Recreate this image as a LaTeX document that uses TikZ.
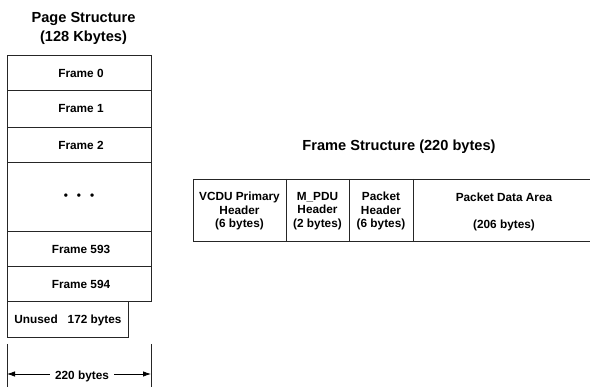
\documentclass[tikz,border=0pt]{standalone}
\usepackage{fontspec}
\setmainfont{Liberation Sans}
\usetikzlibrary{arrows.meta}
\tikzset{
  cell/.style={draw=black!85, line width=0.8pt},
  lbl/.style={font=\bfseries\fontsize{11.8}{13.5}\selectfont, align=center, inner sep=0pt},
  ttl/.style={font=\bfseries\fontsize{14.6}{19}\selectfont, align=center, inner sep=0pt},
}
\begin{document}
\begin{tikzpicture}[x=1pt,y=-1pt]
\useasboundingbox (0,0) rectangle (590,387);

% page structure column
\node[ttl] (ptitle) at (83.5,28) {Page Structure\\(128 Kbytes)};
\draw[cell] (7,55) rectangle (151,301);
\foreach \yy in {90,127,162,231,266} \draw[cell] (7,\yy) -- (151,\yy);
\node[lbl] (f0) at (81,73) {Frame 0};
\node[lbl] (f1) at (81,109) {Frame 1};
\node[lbl] (f2) at (81,145) {Frame 2};
\node[lbl] (dots) at (79,197) {\textbullet\hspace{9pt}\textbullet\hspace{9pt}\textbullet};
\node[lbl] (f593) at (81,249) {Frame 593};
\node[lbl] (f594) at (81,284) {Frame 594};
\draw[cell] (7,301) rectangle (128,337);
\node[lbl] (unused) at (68,320) {Unused\hspace{10pt}172 bytes};

% width dimension
\coordinate (tl) at (7,344);
\coordinate (tr) at (151,344);
\draw[cell] (tl) -- (7,387);
\draw[cell] (tr) -- (151,387);
\node[lbl, fill=white, inner xsep=5pt] (w) at (82,376) {220 bytes};
\coordinate (al) at (7,374);
\coordinate (ar) at (151,374);
\draw[line width=0.8pt, -{Latex[length=8pt,width=5.5pt]}] (w.west |- al) -- (al);
\draw[line width=0.8pt, -{Latex[length=8pt,width=5.5pt]}] (w.east |- ar) -- (ar);

% frame structure
\node[ttl] (ftitle) at (399,147) {Frame Structure (220 bytes)};
\draw[cell] (193,179) -- (593,179);
\draw[cell] (193,241) -- (593,241);
\draw[cell] (193,179) -- (193,241);
\foreach \xx in {286,349,413} \draw[cell] (\xx,179) -- (\xx,241);
\node[lbl] (vcdu) at (239.5,211) {VCDU Primary\\Header\\(6 bytes)};
\node[lbl] (mpdu) at (317.5,211) {M\_PDU\\Header\\(2 bytes)};
\node[lbl] (pkth) at (381,211) {Packet\\Header\\(6 bytes)};
\node[lbl] (pda) at (504,197.5) {Packet Data Area};
\node[lbl] (pdab) at (504,225) {(206 bytes)};
\end{tikzpicture}
\end{document}
